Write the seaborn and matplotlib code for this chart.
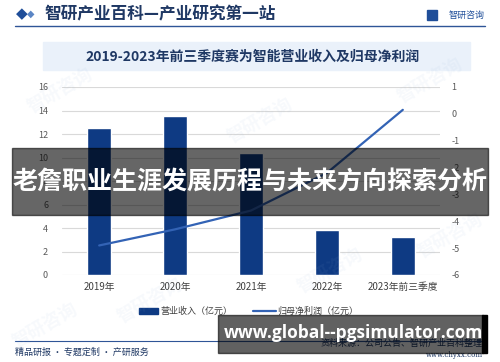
import numpy as np
import pandas as pd
import matplotlib
matplotlib.use("Agg")
import matplotlib.pyplot as plt
import seaborn as sns
from matplotlib.patches import Rectangle
from matplotlib.lines import Line2D

years = ["2019年", "2020年", "2021年", "2022年", "2023年前三季度"]
revenue = [12.5, 13.5, 10.4, 3.85, 3.2]
net_profit = [-4.9, -4.3, -3.6, -2.2, 0.15]

left_ticks = [0, 2, 4, 6, 8, 10, 12, 14, 16]
right_ticks = [-6, -5, -4, -3, -2, -1, 0, 1]

sns.set_theme(style="white")
plt.rcParams['font.family'] = ['Noto Sans CJK SC', 'DejaVu Sans']

W, H = 500, 362
fig = plt.figure(figsize=(5, 3.62), dpi=100)


def fx(px):
    return px / W


def fy(py):
    return 1 - py / H


# faint watermarks
for (x, y) in [(60, 90), (150, 300), (260, 120), (330, 270), (430, 80), (450, 235), (45, 325)]:
    fig.text(fx(x), fy(y), "智研咨询", fontsize=13, color="#8fb0d8", alpha=0.07,
             rotation=30, ha="center", va="center", fontweight="bold")

# header
fig.add_artist(Line2D([fx(15), fx(485)], [fy(26), fy(26)], color="#2f5597", lw=1))
fig.text(fx(22), fy(14), "◆", fontsize=11, color="#1f4e99", ha="center", va="center",
         family=["DejaVu Sans"])
fig.text(fx(31), fy(14), "◆", fontsize=7, color="#5b86c5", ha="center", va="center",
         family=["DejaVu Sans"])
fig.text(fx(44), fy(14), "智研产业百科—产业研究第一站", fontsize=12, color="#1f3864",
         ha="left", va="center", fontweight="bold")
fig.text(fx(485), fy(15), "智研咨询", fontsize=6.5, color="#1f4e99", ha="right", va="center")
fig.add_artist(Rectangle((fx(427), fy(20)), fx(10), 10 / H, color="#1f4e99"))

# title box
fig.add_artist(Rectangle((fx(43), fy(70)), fx(427), 28 / H, color="#eaf1fa", zorder=0))
fig.text(fx(253), fy(57), "2019-2023年前三季度赛为智能营业收入及归母净利润", fontsize=10,
         color="#1f3864", ha="center", va="center", fontweight="bold")

# chart
ax = fig.add_axes([fx(62), fy(275), fx(378), 188 / H])
df = pd.DataFrame({"year": years, "revenue": revenue, "profit": net_profit})
sns.barplot(data=df, x="year", y="revenue", ax=ax, color="#0e3a83", width=0.32,
            saturation=1, zorder=2)
ax.set_xlim(-0.49, 4.49)
ax.set_ylim(0, 16)
ax.set_yticks(left_ticks)
ax.grid(axis="y", color="#d9d9d9", lw=0.8, zorder=0)
ax.set_axisbelow(True)
for s in ax.spines.values():
    s.set_visible(False)
ax.set_xlabel("")
ax.set_ylabel("")
ax.tick_params(axis="y", labelsize=6.5, labelcolor="#595959", length=0, pad=10)
ax.tick_params(axis="x", labelsize=7, labelcolor="#404040", length=0, pad=5)

ax2 = ax.twinx()
sns.lineplot(x=np.arange(len(years)), y=net_profit, ax=ax2, color="#3363b5", lw=1.6)
ax2.set_ylim(-6, 1)
ax2.set_yticks(right_ticks)
ax2.set_yticklabels([str(t) for t in right_ticks])
for s in ax2.spines.values():
    s.set_visible(False)
ax2.tick_params(axis="y", labelsize=6.5, labelcolor="#595959", length=0, pad=8)
ax2.grid(False)

# legend
fig.add_artist(Rectangle((fx(139), fy(314)), fx(19), 6 / H, color="#0e3a83"))
fig.text(fx(160), fy(311), "营业收入（亿元）", fontsize=6.5, color="#404040", ha="left", va="center")
fig.add_artist(Line2D([fx(253), fx(276)], [fy(311), fy(311)], color="#3363b5", lw=1.6))
fig.text(fx(277), fy(311), "归母净利润（亿元）", fontsize=6.5, color="#404040", ha="left", va="center")

# footer
fig.add_artist(Line2D([fx(15), fx(485)], [fy(341), fy(341)], color="#2f5597", lw=0.8))
fig.text(fx(15), fy(352), "精品研报 · 专题定制 · 产研服务", fontsize=6.5, color="#1f3864",
         ha="left", va="center")
fig.text(fx(483), fy(343), "资料来源：公司公告、智研产业百科整理", fontsize=6.5, color="#1f3864",
         ha="right", va="center")
fig.text(fx(483), fy(355), "www.chyxx.com", fontsize=5, color="#1f3864", ha="right", va="center",
         family=["DejaVu Serif"])

# overlay band
fig.add_artist(Rectangle((fx(12), fy(215)), fx(476), 67.5 / H, color="black", alpha=0.6, zorder=10))
fig.text(fx(250), fy(183), "老詹职业生涯发展历程与未来方向探索分析", fontsize=18, color="white",
         ha="center", va="center", fontweight="bold", zorder=11)

# url box
fig.add_artist(Rectangle((fx(218), fy(353)), fx(265), 38 / H, color="black", alpha=0.62, zorder=10))
fig.add_artist(Rectangle((fx(482), fy(353)), fx(5), 38 / H, color="black", zorder=10))
fig.text(fx(353), fy(333), "www.global--pgsimulator.com", fontsize=12.5, color="white",
         ha="center", va="center", fontweight="bold", family=["Open Sans", "DejaVu Sans"], zorder=11)

fig.savefig("out.png", dpi=100)
